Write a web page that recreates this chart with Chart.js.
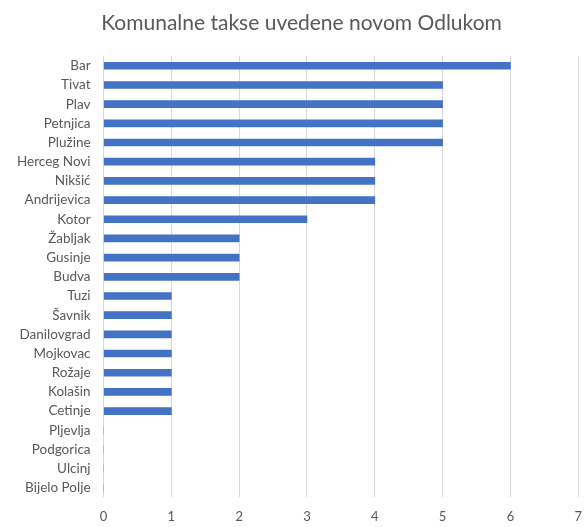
<!DOCTYPE html>
<html>
<head>
<meta charset="utf-8">
<script src="https://cdn.jsdelivr.net/npm/chart.js@4"></script>
<style>
  html, body { margin: 0; padding: 0; background: #fff; overflow: hidden; }
  #wrap { width: 594px; height: 527px; }
</style>
</head>
<body>
<div id="wrap"><canvas id="myChart"></canvas></div>
<script>
const municipalities = ['Bar', 'Tivat', 'Plav', 'Petnjica', 'Plužine', 'Herceg Novi', 'Nikšić', 'Andrijevica',
  'Kotor', 'Žabljak', 'Gusinje', 'Budva', 'Tuzi', 'Šavnik', 'Danilovgrad', 'Mojkovac', 'Rožaje',
  'Kolašin', 'Cetinje', 'Pljevlja', 'Podgorica', 'Ulcinj', 'Bijelo Polje'];
const taxCounts = [6, 5, 5, 5, 5, 4, 4, 4, 3, 2, 2, 2, 1, 1, 1, 1, 1, 1, 1, 0, 0, 0, 0];
const xTicks = [0, 1, 2, 3, 4, 5, 6, 7];
const chartTitle = 'Komunalne takse uvedene novom Odlukom';

const ctx = document.getElementById('myChart');

new Chart(ctx, {
  type: 'bar',
  data: {
    labels: municipalities,
    datasets: [{
      label: 'Broj taksi',
      data: taxCounts,
      backgroundColor: '#4472c4',
      borderWidth: 0,
      barThickness: 7
    }]
  },
  options: {
    indexAxis: 'y',
    responsive: true,
    maintainAspectRatio: false,
    animation: false,
    layout: { padding: { left: 4, right: -5, top: 11, bottom: -10 } },
    plugins: {
      legend: { display: false },
      tooltip: { enabled: false },
      title: {
        display: true,
        text: chartTitle,
        color: '#595959',
        font: { family: 'Lato', size: 21, weight: 'normal' },
        padding: { top: 0, bottom: 20 }
      }
    },
    scales: {
      x: {
        min: 0,
        max: 7,
        afterBuildTicks: (axis) => { axis.ticks = xTicks.map(v => ({ value: v })); },
        grid: { color: '#d9d9d9', drawTicks: false },
        border: { display: false },
        ticks: { color: '#595959', padding: 12, font: { family: 'Lato', size: 13 } }
      },
      y: {
        grid: { display: false, drawTicks: false },
        border: { display: false },
        ticks: { color: '#595959', padding: 13, autoSkip: false, font: { family: 'Lato', size: 13.5 } }
      }
    }
  }
});
</script>
</body>
</html>
